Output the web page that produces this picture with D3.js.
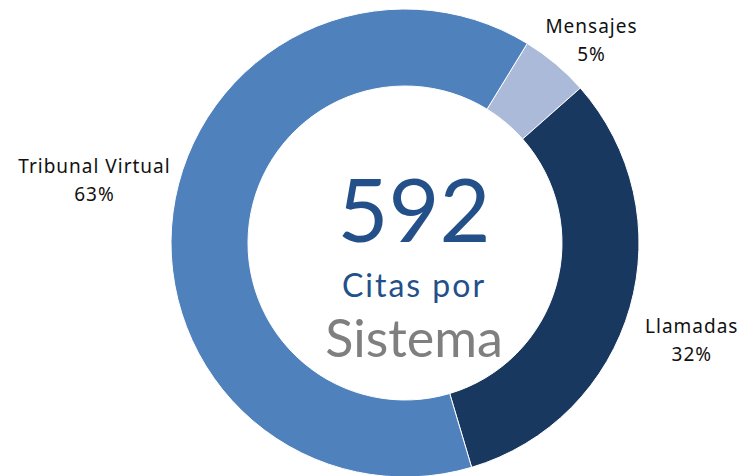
<!DOCTYPE html>
<html>
<head>
<meta charset="utf-8">
<script src="https://cdn.jsdelivr.net/npm/d3@7"></script>
<style>
  body { margin: 0; background: #fff; }
  svg { display: block; }
  .lbl { font-family: "Noto Sans", sans-serif; font-size: 19px; fill: #111; letter-spacing: 1px; }
</style>
</head>
<body>
<svg id="chart" width="742" height="476"></svg>
<script>
// data
const categories = ["Mensajes", "Llamadas", "Tribunal Virtual"];
const values = [28, 189, 375];
const sliceColors = ["#AABAD8", "#19385F", "#4F81BD"];
const totalLabel = "592";
const centerLine1 = "Citas por";
const centerLine2 = "Sistema";

// layout
const cx = 405, cy = 243;
const outerR = 234, innerR = 157;
const startDeg = 31.5;
const labelR = 290;
// small label nudges so they sit like the original (dx, dy)
const labelNudge = [[0, 19], [8, 17], [-23, -25]];

let svg = d3.select("#chart");
let g = svg.append("g")
  .attr("transform", "translate(" + cx + "," + cy + ")");

let data = categories.map((c, i) => ({ name: c, value: values[i], color: sliceColors[i] }));
let total = d3.sum(values);

let pie = d3.pie()
  .sort(null)
  .value(d => d.value)
  .startAngle(startDeg * Math.PI / 180)
  .endAngle(startDeg * Math.PI / 180 + 2 * Math.PI);

let arc = d3.arc()
  .innerRadius(innerR)
  .outerRadius(outerR);

let arcs = pie(data);

g.selectAll("path.slice")
  .data(arcs)
  .enter()
  .append("path")
  .attr("class", "slice")
  .attr("d", arc)
  .attr("fill", d => d.data.color)
  .attr("stroke", "#fff")
  .attr("stroke-width", 1);

// outside labels
let labelArc = d3.arc().innerRadius(labelR).outerRadius(labelR);
let labels = g.selectAll("text.lbl")
  .data(arcs)
  .enter()
  .append("text")
  .attr("class", "lbl")
  .attr("text-anchor", "middle")
  .attr("transform", (d, i) => {
    let p = labelArc.centroid(d);
    return "translate(" + (p[0] + labelNudge[i][0]) + "," + (p[1] + labelNudge[i][1]) + ")";
  });

labels.append("tspan")
  .attr("x", 0)
  .attr("y", -7)
  .text(d => d.data.name);

labels.append("tspan")
  .attr("x", 0)
  .attr("y", 21)
  .text(d => Math.round(d.data.value / total * 100) + "%");

// center text
let center = svg.append("g")
  .attr("transform", "translate(" + (cx + 9) + "," + cy + ")")
  .attr("text-anchor", "middle")
  .style("font-family", "Lato, sans-serif");

center.append("text")
  .attr("y", -1)
  .style("font-size", "88px")
  .style("fill", "#245089")
  .text(totalLabel);

center.append("text")
  .attr("y", 54)
  .style("font-size", "32px")
  .style("letter-spacing", "2px")
  .style("fill", "#245089")
  .text(centerLine1);

center.append("text")
  .attr("y", 114)
  .style("font-size", "52px")
  .style("fill", "#7F7F7F")
  .text(centerLine2);
</script>
</body>
</html>
